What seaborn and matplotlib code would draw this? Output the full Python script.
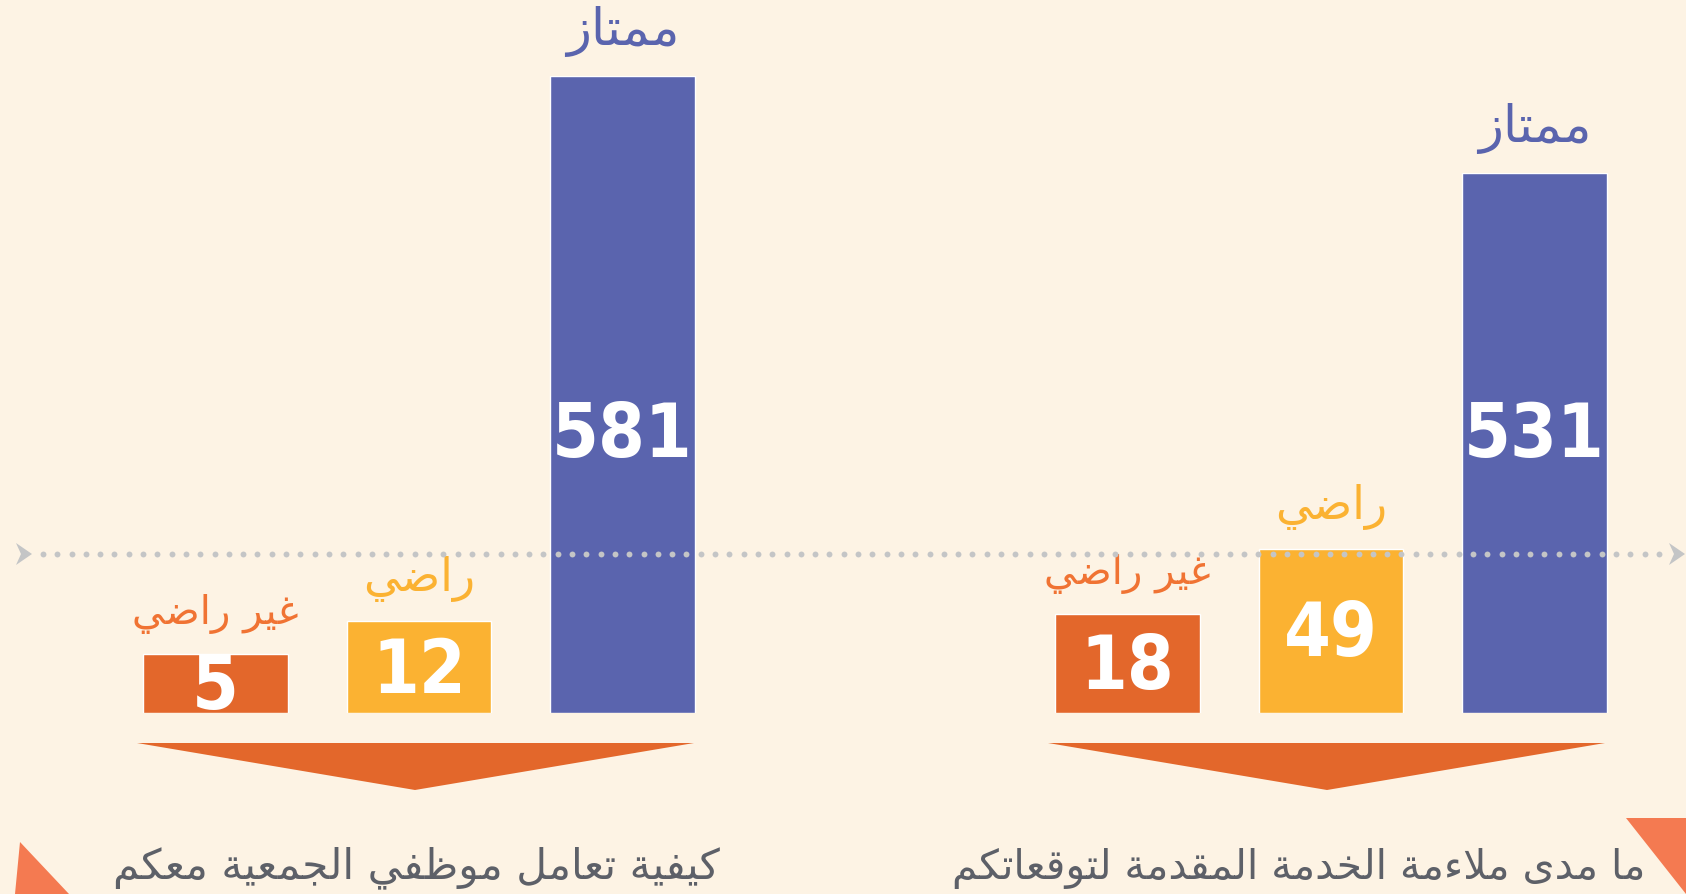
import numpy as np
import pandas as pd
import matplotlib
matplotlib.use("Agg")
import matplotlib.pyplot as plt
from matplotlib import font_manager
from matplotlib.patches import Polygon
import seaborn as sns

# data
categories = ["غير راضي", "راضي", "ممتاز"]
left_values = [5, 12, 581]
right_values = [18, 49, 531]
left_title = "كيفية تعامل موظفي الجمعية معكم"
right_title = "ما مدى ملاءمة الخدمة المقدمة لتوقعاتكم"

bar_colors = ["#e3672b", "#fbb232", "#5a64ae"]
label_colors = ["#f07333", "#fbb232", "#5a64ae"]
label_sizes = [29, 33, 37]
BG = "#fdf3e4"

# Arabic contextual forms (isolated, final, initial, medial)
FORMS = {
    "ء": ("\uFE80", None, None, None),
    "ا": ("\uFE8D", "\uFE8E", None, None),
    "ة": ("\uFE93", "\uFE94", None, None),
    "ت": ("\uFE95", "\uFE96", "\uFE97", "\uFE98"),
    "ج": ("\uFE9D", "\uFE9E", "\uFE9F", "\uFEA0"),
    "خ": ("\uFEA5", "\uFEA6", "\uFEA7", "\uFEA8"),
    "د": ("\uFEA9", "\uFEAA", None, None),
    "ر": ("\uFEAD", "\uFEAE", None, None),
    "ز": ("\uFEAF", "\uFEB0", None, None),
    "ض": ("\uFEBD", "\uFEBE", "\uFEBF", "\uFEC0"),
    "ظ": ("\uFEC5", "\uFEC6", "\uFEC7", "\uFEC8"),
    "ع": ("\uFEC9", "\uFECA", "\uFECB", "\uFECC"),
    "غ": ("\uFECD", "\uFECE", "\uFECF", "\uFED0"),
    "ف": ("\uFED1", "\uFED2", "\uFED3", "\uFED4"),
    "ق": ("\uFED5", "\uFED6", "\uFED7", "\uFED8"),
    "ك": ("\uFED9", "\uFEDA", "\uFEDB", "\uFEDC"),
    "ل": ("\uFEDD", "\uFEDE", "\uFEDF", "\uFEE0"),
    "م": ("\uFEE1", "\uFEE2", "\uFEE3", "\uFEE4"),
    "و": ("\uFEED", "\uFEEE", None, None),
    "ى": ("\uFEEF", "\uFEF0", None, None),
    "ي": ("\uFEF1", "\uFEF2", "\uFEF3", "\uFEF4"),
}


def shape(text):
    """Join Arabic letters and put them in visual (left-to-right) order."""
    out = []
    i = 0
    n = len(text)
    while i < n:
        c = text[i]
        if c not in FORMS:
            out.append(c)
            i += 1
            continue
        prev = text[i - 1] if i > 0 else ""
        nxt = text[i + 1] if i + 1 < n else ""
        join_prev = prev in FORMS and FORMS[prev][2] is not None
        if c == "ل" and nxt == "ا":
            out.append("\uFEFC" if join_prev else "\uFEFB")
            i += 2
            continue
        join_next = FORMS[c][2] is not None and nxt in FORMS and FORMS[nxt][1] is not None
        iso, fin, ini, med = FORMS[c]
        if join_prev and join_next:
            out.append(med)
        elif join_prev:
            out.append(fin)
        elif join_next:
            out.append(ini)
        else:
            out.append(iso)
        i += 1
    return "".join(reversed(out))


def number_font():
    # prefer a condensed bold face for the big numbers
    for key in ("SansNarrow-Bold", "SansCondensed-Bold", "Condensed-Bold"):
        for f in font_manager.fontManager.ttflist:
            if key in f.fname.replace(" ", ""):
                return font_manager.FontProperties(fname=f.fname, size=54)
    return font_manager.FontProperties(family="Roboto", weight="bold", size=50)


W, H = 1686, 894
fig = plt.figure(figsize=(W / 100, H / 100), dpi=100, facecolor=BG)
sns.set_style("white")
plt.rcParams["font.family"] = ["DejaVu Sans"]
num_fp = number_font()

# background / decoration layer in pixel coordinates
deco = fig.add_axes([0, 0, 1, 1], zorder=0)
deco.set_xlim(0, W)
deco.set_ylim(H, 0)
deco.axis("off")
deco.set_facecolor(BG)

for tri in ([(137, 743), (694, 743), (415, 790)],
            [(1048, 743), (1605, 743), (1327, 790)]):
    deco.add_patch(Polygon(tri, closed=True, color="#e3672b", lw=0))
deco.add_patch(Polygon([(20, 842), (15, 894), (69, 894)], color="#f47a51", lw=0))
deco.add_patch(Polygon([(1626, 818), (1686, 818), (1686, 894)], color="#f47a51", lw=0))

deco.text(416, 868, shape(left_title), ha="center", va="center",
          fontsize=30.5, color="#5d6068")
deco.text(1299, 868, shape(right_title), ha="center", va="center",
          fontsize=29.5, color="#5d6068")


def sqrt_fwd(v):
    return np.sqrt(np.clip(v, 0, None))


def sqrt_inv(v):
    return np.square(v)


def draw_group(values, px_left, px_top):
    """Bars on a square-root scale; axes top sits at the tallest bar."""
    base = 181
    ax = fig.add_axes([px_left / W, base / H, 610 / W, (H - px_top - base) / H], zorder=1)
    df = pd.DataFrame({"cat": categories, "val": values})
    sns.barplot(data=df, x="cat", y="val", hue="cat", palette=bar_colors,
                saturation=1, width=0.71, legend=False, ax=ax)
    ax.set_yscale("function", functions=(sqrt_fwd, sqrt_inv))
    ax.set_xlim(-0.5, 2.5)
    ax.set_ylim(0, max(values))
    ax.axis("off")
    ax.patch.set_alpha(0)

    trans = ax.transData
    for i, (v, lab) in enumerate(zip(values, categories)):
        top_px = trans.transform((i, v))[1]
        base_px = trans.transform((i, 0))[1]
        if v == max(values):
            mid_px = H - 428
        else:
            mid_px = (top_px + base_px) / 2 + 3
        y_mid = trans.inverted().transform((0, mid_px))[1]
        ax.text(i, y_mid, str(v), ha="center", va="center_baseline", color="white",
                fontproperties=num_fp)
        ax.annotate(shape(lab), (i, v), xytext=(0, 14), textcoords="offset points",
                    ha="center", va="bottom", fontsize=label_sizes[i],
                    color=label_colors[i], annotation_clip=False)
    return ax


draw_group(left_values, 114, 76)
draw_group(right_values, 1026, 173)

# dotted guide line with arrow heads, drawn over the bars
over = fig.add_axes([0, 0, 1, 1], zorder=2)
over.set_xlim(0, W)
over.set_ylim(H, 0)
over.axis("off")
over.patch.set_alpha(0)
dot_x = np.arange(43, 1662, 14.3)
over.scatter(dot_x, np.full(len(dot_x), 554), s=18, color="#c4c5c6", linewidths=0)
for x0 in (16, 1669):
    over.add_patch(Polygon([(x0, 543), (x0 + 16, 554), (x0, 565), (x0 + 5, 554)],
                           color="#c4c5c6", lw=0))

fig.savefig("out.png", dpi=100, facecolor=BG)
